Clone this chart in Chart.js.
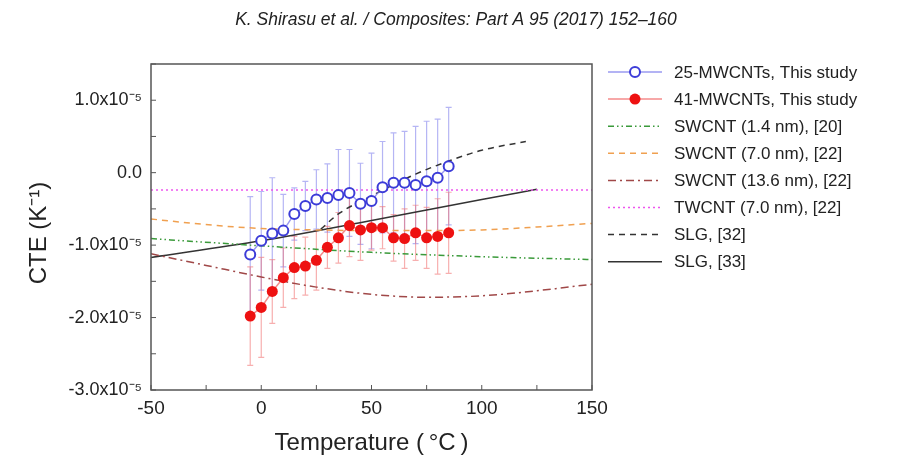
<!DOCTYPE html>
<html>
<head>
<meta charset="utf-8">
<script src="https://cdn.jsdelivr.net/npm/chart.js@4.4.0/dist/chart.umd.min.js"></script>
<style>
  html, body { margin: 0; padding: 0; background: #fff; }
  #wrap { width: 903px; height: 463px; }
</style>
</head>
<body>
<div id="wrap"><canvas id="cteChart" width="903" height="463"></canvas></div>
<script>
// CTE values are in units of 1e-5 K^-1
const temps = [-5, 0, 5, 10, 15, 20, 25, 30, 35, 40, 45, 50, 55, 60, 65, 70, 75, 80, 85];

const cte25 = [-1.13, -0.94, -0.84, -0.80, -0.57, -0.46, -0.37, -0.35, -0.31, -0.28, -0.43, -0.39, -0.20, -0.14, -0.14, -0.17, -0.12, -0.07, 0.09];
const err25 = [0.80, 0.68, 0.77, 0.50, 0.36, 0.34, 0.41, 0.47, 0.63, 0.60, 0.56, 0.66, 0.63, 0.69, 0.71, 0.81, 0.83, 0.81, 0.81];

const cte41 = [-1.98, -1.86, -1.64, -1.45, -1.31, -1.29, -1.21, -1.03, -0.90, -0.73, -0.79, -0.76, -0.76, -0.90, -0.91, -0.83, -0.90, -0.88, -0.83];
const err41 = [0.68, 0.69, 0.44, 0.41, 0.43, 0.40, 0.41, 0.29, 0.35, 0.43, 0.42, 0.31, 0.29, 0.32, 0.41, 0.38, 0.42, 0.52, 0.56];

// literature curves
const swcnt14T = [-50, 0, 50, 100, 150];
const swcnt14 = [-0.91, -1.01, -1.10, -1.16, -1.20];
const swcnt70T = [-50, -20, 0, 25, 50, 75, 100, 125, 150];
const swcnt70 = [-0.64, -0.73, -0.77, -0.79, -0.80, -0.80, -0.79, -0.75, -0.70];
const swcnt136T = [-50, -25, 0, 25, 50, 75, 100, 125, 150];
const swcnt136 = [-1.12, -1.28, -1.44, -1.58, -1.68, -1.72, -1.70, -1.63, -1.54];
const twcntT = [-50, 150];
const twcnt = [-0.24, -0.24];
const slg32T = [27, 35, 50, 70, 85, 100, 120];
const slg32 = [-0.78, -0.57, -0.32, -0.02, 0.16, 0.31, 0.43];
const slg33T = [-50, 0, 50, 100, 125];
const slg33 = [-1.17, -0.94, -0.66, -0.37, -0.23];

const seriesNames = [
  '25-MWCNTs, This study',
  '41-MWCNTs, This study',
  'SWCNT (1.4 nm), [20]',
  'SWCNT (7.0 nm), [22]',
  'SWCNT (13.6 nm), [22]',
  'TWCNT (7.0 nm), [22]',
  'SLG, [32]',
  'SLG, [33]'
];

const xTitle = 'Temperature (\u2009\u00B0C\u2009)';
const yTitle = 'CTE (K\u207B\u00B9)\u2002';
const header = 'K. Shirasu et al. / Composites: Part A 95 (2017) 152\u2013160';

const toPts = (xs, ys) => xs.map((t, i) => ({ x: t, y: ys[i] }));

function refLine(label, xs, ys, color, dash) {
  return {
    label: label,
    data: toPts(xs, ys),
    showLine: true,
    borderColor: color,
    borderWidth: 1.5,
    borderDash: dash,
    pointRadius: 0,
    tension: 0.4,
    cubicInterpolationMode: 'monotone'
  };
}

const datasets = [
  {
    label: seriesNames[0],
    data: toPts(temps, cte25),
    showLine: true,
    borderColor: 'rgba(120,120,235,0.75)',
    borderWidth: 1.5,
    pointRadius: 5,
    pointBorderWidth: 2,
    pointBorderColor: '#3c3cd8',
    pointBackgroundColor: '#ffffff',
    errors: err25,
    errColor: 'rgba(120,120,235,0.55)'
  },
  {
    label: seriesNames[1],
    data: toPts(temps, cte41),
    showLine: true,
    borderColor: 'rgba(240,100,100,0.75)',
    borderWidth: 1.5,
    pointRadius: 5.5,
    pointBorderWidth: 0,
    pointBorderColor: '#ee1111',
    pointBackgroundColor: '#ee1111',
    errors: err41,
    errColor: 'rgba(240,110,110,0.55)'
  },
  refLine(seriesNames[2], swcnt14T, swcnt14, '#3a9a3a', [6, 3, 1.5, 3, 1.5, 3]),
  refLine(seriesNames[3], swcnt70T, swcnt70, '#f0a050', [6, 5]),
  refLine(seriesNames[4], swcnt136T, swcnt136, '#a04848', [8, 4, 2, 4]),
  refLine(seriesNames[5], twcntT, twcnt, '#ee55ee', [2, 3]),
  refLine(seriesNames[6], slg32T, slg32, '#333333', [6, 5]),
  refLine(seriesNames[7], slg33T, slg33, '#333333', [])
];

const extras = {
  id: 'extras',
  beforeDatasetsDraw(chart) {
    const { ctx, scales: { x, y } } = chart;
    chart.data.datasets.forEach(ds => {
      if (!ds.errors) return;
      ctx.save();
      ctx.strokeStyle = ds.errColor;
      ctx.lineWidth = 1.2;
      ds.data.forEach((p, i) => {
        const px = x.getPixelForValue(p.x);
        const top = y.getPixelForValue(p.y + ds.errors[i]);
        const bot = y.getPixelForValue(p.y - ds.errors[i]);
        ctx.beginPath();
        ctx.moveTo(px, top); ctx.lineTo(px, bot);
        ctx.moveTo(px - 3, top); ctx.lineTo(px + 3, top);
        ctx.moveTo(px - 3, bot); ctx.lineTo(px + 3, bot);
        ctx.stroke();
      });
      ctx.restore();
    });
  },
  afterDraw(chart) {
    const { ctx, chartArea: a, scales: { x, y } } = chart;
    ctx.save();
    // frame
    ctx.strokeStyle = '#555';
    ctx.lineWidth = 1.5;
    ctx.strokeRect(a.left, a.top, a.right - a.left, a.bottom - a.top);
    // inward ticks
    ctx.lineWidth = 1;
    ctx.beginPath();
    x.ticks.forEach(t => {
      const px = x.getPixelForValue(t.value);
      ctx.moveTo(px, a.bottom); ctx.lineTo(px, a.bottom - 5);
    });
    y.ticks.forEach(t => {
      const py = y.getPixelForValue(t.value);
      ctx.moveTo(a.left, py); ctx.lineTo(a.left + 5, py);
    });
    ctx.stroke();

    // header
    ctx.fillStyle = '#222';
    ctx.font = 'italic 17.5px "Liberation Sans"';
    ctx.textAlign = 'center';
    ctx.textBaseline = 'middle';
    ctx.fillText(header, 456, 20);

    // legend
    ctx.textAlign = 'left';
    ctx.font = '17px "Liberation Sans"';
    chart.data.datasets.forEach((ds, i) => {
      const ly = 72 + i * 27.1;
      ctx.save();
      ctx.strokeStyle = ds.borderColor;
      ctx.lineWidth = ds.borderWidth;
      ctx.setLineDash(ds.borderDash || []);
      ctx.beginPath();
      ctx.moveTo(608, ly); ctx.lineTo(662, ly);
      ctx.stroke();
      ctx.restore();
      if (ds.pointRadius > 0) {
        ctx.save();
        ctx.beginPath();
        ctx.arc(635, ly, ds.pointRadius, 0, Math.PI * 2);
        ctx.fillStyle = ds.pointBackgroundColor;
        ctx.fill();
        if (ds.pointBorderWidth > 0) {
          ctx.lineWidth = ds.pointBorderWidth;
          ctx.strokeStyle = ds.pointBorderColor;
          ctx.stroke();
        }
        ctx.restore();
      }
      ctx.fillStyle = '#222';
      ctx.fillText(ds.label, 674, ly + 1);
    });
    ctx.restore();
  }
};

new Chart(document.getElementById('cteChart').getContext('2d'), {
  type: 'scatter',
  data: { datasets: datasets },
  options: {
    responsive: false,
    animation: false,
    layout: { padding: { top: 64, right: 311, left: 0, bottom: 0 } },
    plugins: { legend: { display: false }, tooltip: { enabled: false } },
    scales: {
      x: {
        type: 'linear',
        min: -50,
        max: 150,
        afterFit: s => { s.height = 73; },
        grid: { display: false, drawTicks: false },
        border: { display: false },
        ticks: {
          stepSize: 25,
          color: '#222',
          padding: 7,
          font: { family: '"Liberation Sans"', size: 19 },
          callback: v => (v % 50 === 0 ? String(v) : '')
        },
        title: {
          display: true,
          text: xTitle,
          color: '#222',
          font: { family: '"Liberation Sans"', size: 24 },
          padding: { top: 0, bottom: 5 }
        }
      },
      y: {
        type: 'linear',
        min: -3,
        max: 1.5,
        afterFit: s => { s.width = 151; },
        grid: { display: false, drawTicks: false },
        border: { display: false },
        ticks: {
          stepSize: 0.5,
          color: '#222',
          padding: 9,
          font: { family: '"Liberation Sans"', size: 18 },
          callback: v => {
            if (!Number.isInteger(v)) return '';
            return v === 0 ? '0.0' : v.toFixed(1) + 'x10\u207B\u2075';
          }
        },
        title: {
          display: true,
          text: yTitle,
          color: '#222',
          font: { family: '"Liberation Sans"', size: 24 },
          padding: { top: 25, bottom: 0 }
        }
      }
    }
  },
  plugins: [extras]
});
</script>
</body>
</html>
